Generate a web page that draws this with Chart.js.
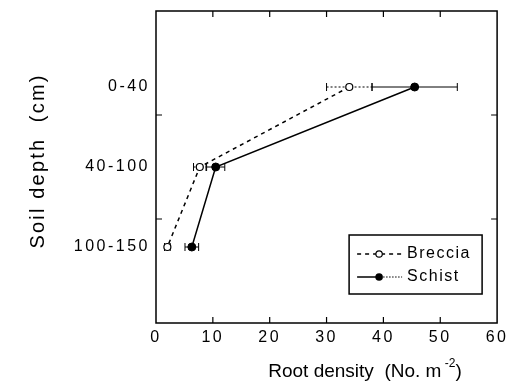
<!DOCTYPE html>
<html>
<head>
<meta charset="utf-8">
<script src="https://cdn.jsdelivr.net/npm/chart.js@4/dist/chart.umd.min.js"></script>
<style>
    body { margin: 0; background: #fff; }
    canvas { display: block; }
</style>
</head>
<body>
<canvas id="rootChart" width="511" height="389"></canvas>
<script>
// Data
const depthLabels = ['0-40', '40-100', '100-150'];
const depthPos = [1, 2, 3];
const brecciaMean = [34, 7.7, 2];
const brecciaErr = [4, 1.1, 0.5];
const schistMean = [45.5, 10.5, 6.3];
const schistErr = [7.5, 1.6, 1.2];
const xTicks = [0, 10, 20, 30, 40, 50, 60];
const xTickMarks = [10, 20, 30, 40, 50];
const yTickMarks = [1.35, 2.65];

const FONT = '"Liberation Sans", Arial, sans-serif';

function toPoints(means) {
    return depthPos.map((p, i) => ({ x: means[i], y: p }));
}

// frame, inward ticks, error bars, titles, legend
const decorations = {
    id: 'decorations',
    beforeDraw(chart) {
        chart.ctx.letterSpacing = '2.5px';
    },
    beforeDatasetsDraw(chart) {
        const ctx = chart.ctx;
        const x = chart.scales.x, y = chart.scales.y;
        const bars = [
            { mean: brecciaMean, err: brecciaErr, dash: [2, 2] },
            { mean: schistMean, err: schistErr, dash: [] }
        ];
        ctx.save();
        ctx.strokeStyle = '#000';
        ctx.lineWidth = 1;
        bars.forEach(b => {
            depthPos.forEach((p, i) => {
                const py = y.getPixelForValue(p);
                const x0 = x.getPixelForValue(b.mean[i] - b.err[i]);
                const x1 = x.getPixelForValue(b.mean[i] + b.err[i]);
                ctx.setLineDash(b.dash);
                ctx.beginPath();
                ctx.moveTo(x0, py); ctx.lineTo(x1, py);
                ctx.stroke();
                ctx.setLineDash([]);
                ctx.beginPath();
                ctx.moveTo(x0, py - 4); ctx.lineTo(x0, py + 4);
                ctx.moveTo(x1, py - 4); ctx.lineTo(x1, py + 4);
                ctx.stroke();
            });
        });
        ctx.restore();
    },
    afterDraw(chart) {
        const ctx = chart.ctx;
        const a = chart.chartArea;
        const x = chart.scales.x, y = chart.scales.y;
        ctx.save();
        ctx.strokeStyle = '#000';
        ctx.fillStyle = '#000';
        ctx.lineWidth = 1.5;
        ctx.strokeRect(a.left, a.top, a.right - a.left, a.bottom - a.top);

        ctx.lineWidth = 1.2;
        ctx.beginPath();
        xTickMarks.forEach(v => {
            const px = x.getPixelForValue(v);
            ctx.moveTo(px, a.bottom); ctx.lineTo(px, a.bottom - 6);
            ctx.moveTo(px, a.top); ctx.lineTo(px, a.top + 6);
        });
        yTickMarks.forEach(v => {
            const py = y.getPixelForValue(v);
            ctx.moveTo(a.left, py); ctx.lineTo(a.left + 6, py);
            ctx.moveTo(a.right, py); ctx.lineTo(a.right - 6, py);
        });
        ctx.stroke();

        // axis titles
        ctx.letterSpacing = '0px';
        ctx.textBaseline = 'middle';
        ctx.font = '19px ' + FONT;
        const main = 'Root density  (No. m';
        const wMain = ctx.measureText(main).width;
        ctx.font = '12px ' + FONT;
        const wSup = ctx.measureText(' -2').width;
        ctx.font = '19px ' + FONT;
        const wEnd = ctx.measureText(')').width;
        let tx = 365 - (wMain + wSup + wEnd) / 2;
        const ty = 372;
        ctx.textAlign = 'left';
        ctx.fillText(main, tx, ty);
        tx += wMain;
        ctx.font = '12px ' + FONT;
        ctx.fillText(' -2', tx, ty - 8);
        tx += wSup;
        ctx.font = '19px ' + FONT;
        ctx.fillText(')', tx, ty);

        ctx.save();
        ctx.translate(38, 161);
        ctx.rotate(-Math.PI / 2);
        ctx.textAlign = 'center';
        ctx.font = '20px ' + FONT;
        ctx.letterSpacing = '2.2px';
        ctx.fillText('Soil depth  (cm)', 0, 0);
        ctx.restore();

        // legend box
        const lx = a.right - 148, ly = a.bottom - 88, lw = 133, lh = 59;
        ctx.fillStyle = '#fff';
        ctx.fillRect(lx, ly, lw, lh);
        ctx.lineWidth = 1.5;
        ctx.strokeRect(lx, ly, lw, lh);
        ctx.fillStyle = '#000';
        const r1 = ly + 19, r2 = ly + 42;
        ctx.lineWidth = 1.5;
        ctx.setLineDash([4, 4]);
        ctx.beginPath();
        ctx.moveTo(lx + 8, r1); ctx.lineTo(lx + 53, r1);
        ctx.stroke();
        ctx.setLineDash([]);
        ctx.beginPath();
        ctx.moveTo(lx + 8, r2); ctx.lineTo(lx + 28, r2);
        ctx.stroke();
        ctx.lineWidth = 1;
        ctx.setLineDash([1.5, 1.5]);
        ctx.beginPath();
        ctx.moveTo(lx + 34, r2); ctx.lineTo(lx + 53, r2);
        ctx.stroke();
        ctx.setLineDash([]);
        ctx.fillStyle = '#fff';
        ctx.lineWidth = 1.2;
        ctx.beginPath();
        ctx.arc(lx + 30, r1, 3.2, 0, Math.PI * 2);
        ctx.fill(); ctx.stroke();
        ctx.fillStyle = '#000';
        ctx.beginPath();
        ctx.arc(lx + 30, r2, 3.8, 0, Math.PI * 2);
        ctx.fill();
        ctx.font = '16px ' + FONT;
        ctx.textAlign = 'left';
        ctx.letterSpacing = '1.5px';
        ctx.fillText('Breccia', lx + 58, r1);
        ctx.fillText('Schist', lx + 58, r2);
        ctx.restore();
    }
};

new Chart(document.getElementById('rootChart'), {
    type: 'scatter',
    data: {
        datasets: [
            {
                label: 'Breccia',
                data: toPoints(brecciaMean),
                showLine: true,
                borderColor: '#000',
                borderWidth: 1.5,
                borderDash: [4, 4],
                pointRadius: 3.5,
                pointBackgroundColor: '#fff',
                pointBorderColor: '#000',
                pointBorderWidth: 1.2
            },
            {
                label: 'Schist',
                data: toPoints(schistMean),
                showLine: true,
                borderColor: '#000',
                borderWidth: 1.5,
                pointRadius: 4,
                pointBackgroundColor: '#000',
                pointBorderColor: '#000',
                pointBorderWidth: 1
            }
        ]
    },
    options: {
        responsive: false,
        animation: false,
        layout: { padding: { top: 11, right: 13, left: 0, bottom: 0 } },
        plugins: {
            legend: { display: false },
            tooltip: { enabled: false }
        },
        scales: {
            x: {
                type: 'linear',
                min: 0,
                max: 60,
                afterBuildTicks: scale => { scale.ticks = xTicks.map(v => ({ value: v })); },
                afterFit: scale => { scale.height = 66; },
                grid: { display: false, drawTicks: false },
                border: { display: false },
                ticks: {
                    color: '#000',
                    padding: 5,
                    maxRotation: 0,
                    font: { family: FONT, size: 16 }
                }
            },
            y: {
                type: 'linear',
                reverse: true,
                min: 0.05,
                max: 3.95,
                afterBuildTicks: scale => { scale.ticks = depthPos.map(v => ({ value: v })); },
                afterFit: scale => {
                    scale.width = 156;
                    scale.paddingTop = 0;
                    scale.paddingBottom = 0;
                },
                grid: { display: false, drawTicks: false },
                border: { display: false },
                ticks: {
                    color: '#000',
                    padding: 6,
                    font: { family: FONT, size: 16 },
                    callback: value => depthLabels[depthPos.indexOf(value)]
                }
            }
        }
    },
    plugins: [decorations]
});
</script>
</body>
</html>
